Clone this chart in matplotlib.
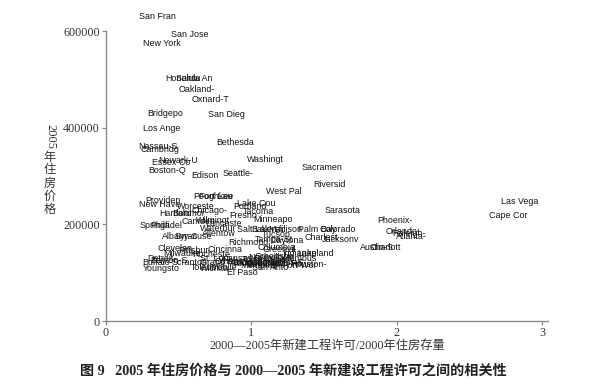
import matplotlib
matplotlib.use("Agg")
import matplotlib.pyplot as plt

cities = ["San Fran", "San Jose", "New York", "Honolulu", "Santa An", "Oakland-", "Oxnard-T",
          "Bridgepo", "San Dieg", "Los Ange", "Bethesda", "Nassau-S", "Cambridg", "Newark-U",
          "Essex Co", "Boston-Q", "Edison", "Seattle-", "Washingt", "Sacramen", "Riversid",
          "West Pal", "Poughkee", "Fort Lau", "Providen", "New Have", "Lake Cou", "Portland",
          "Worceste", "Sarasota", "Chicago-", "Tacoma", "Hartford", "Baltimor", "Fresno",
          "Minneapo", "Phoenix-", "Camden", "Wilmingt", "Lancaste", "Springfi", "Philadel",
          "Waterbur", "Salt Lak", "Bakersfi", "Madison", "Palm Bay", "Colorado", "Orlando-",
          "Raleigh-", "Atlanta-", "Allentow", "Tucson", "Albany-S", "Syracuse", "Richmond",
          "Tampa-St", "Daytona", "Charlest", "Jacksonv", "Austin-S", "Charlott", "Columbia",
          "Greenvil", "Clevelan", "Pittsbur", "Cincinna", "Milwauke", "Rocheste", "Indianap",
          "Lakeland", "Detroit-", "Columbus", "St. Loui", "Kansas C", "Nashvill", "Greensbo",
          "Dayton-S", "Knoxvill", "Tulsa", "Buffalo-", "Scranton", "Grand Ra", "Omaha",
          "Louisvil", "Oklahoma", "Little R", "Dallas-F", "Baton Ro", "Albuquer", "Birmingh",
          "Memphis-", "Fort Wor", "Houston-", "San Anto", "Youngsto", "Toledo", "Wichita",
          "Mobile", "El Paso", "Las Vega", "Cape Cor"]

permits = [0.227, 0.447, 0.254, 0.405, 0.481, 0.502, 0.591,
           0.282, 0.701, 0.254, 0.756, 0.220, 0.234, 0.357,
           0.316, 0.289, 0.584, 0.804, 0.969, 1.347, 1.423,
           1.100, 0.598, 0.639, 0.268, 0.227, 0.900, 0.873,
           0.488, 1.505, 0.591, 0.942, 0.364, 0.454, 0.845,
           1.010, 1.869, 0.522, 0.619, 0.680, 0.234, 0.302,
           0.646, 0.900, 0.997, 1.113, 1.320, 1.471, 1.924,
           1.966, 1.993, 0.660, 1.072, 0.385, 0.474, 0.838,
           1.024, 1.127, 1.368, 1.485, 1.746, 1.814, 1.045,
           1.079, 0.351, 0.495, 0.701, 0.392, 0.591, 1.210,
           1.313, 0.282, 1.175, 0.646, 0.797, 0.976, 1.024,
           0.302, 1.072, 0.935, 0.247, 0.454, 0.646, 0.749,
           0.866, 0.921, 1.045, 1.127, 1.093, 0.852, 0.969,
           0.921, 1.210, 1.265, 1.003, 0.254, 0.584, 0.646,
           0.715, 0.832, 2.715, 2.632]

prices = [629000, 592000, 575000, 501000, 501000, 480000, 459000,
          430000, 428000, 399000, 370000, 362000, 354000, 333000,
          327000, 312000, 302000, 306000, 335000, 317000, 283000,
          267000, 257000, 257000, 250000, 242000, 244000, 236000,
          236000, 228000, 228000, 226000, 223000, 223000, 219000,
          209000, 207000, 205000, 207000, 201000, 197000, 197000,
          192000, 190000, 190000, 190000, 190000, 190000, 186000,
          180000, 174000, 182000, 178000, 174000, 174000, 163000,
          168000, 166000, 172000, 168000, 153000, 153000, 153000,
          147000, 149000, 145000, 147000, 139000, 137000, 139000,
          139000, 130000, 130000, 130000, 130000, 132000, 134000,
          126000, 128000, 128000, 122000, 122000, 122000, 124000,
          122000, 122000, 122000, 122000, 118000, 118000, 116000,
          114000, 114000, 116000, 110000, 108000, 110000, 108000,
          110000, 101000, 248000, 219000]

xticks = [0, 1, 2, 3]
yticks = [0, 200000, 400000, 600000]

xlabel = "2000—2005年新建工程许可/2000年住房存量"
ylabel_num = "2005"
ylabel_cjk = "年住房价格"
caption = "图 9   2005 年住房价格与 2000—2005 年新建设工程许可之间的相关性"

W, H = 590, 390
fig = plt.figure(figsize=(W / 100, H / 100), dpi=100)
fig.patch.set_facecolor("white")
ax = fig.add_axes([106 / W, (H - 321) / H, (548 - 106) / W, (321 - 31) / H])
ax.set_xlim(0, 3.04)
ax.set_ylim(0, 600000)

for name, xv, yv in zip(cities, permits, prices):
    ax.text(xv, yv, name, ha="left", va="center", fontsize=6.4,
            family="Liberation Sans", color="#111111", clip_on=False)

for s in ["top", "right"]:
    ax.spines[s].set_visible(False)
for s in ["left", "bottom"]:
    ax.spines[s].set_color("#8a8a8a")
    ax.spines[s].set_linewidth(1.0)

ax.set_xticks(xticks)
ax.set_xticklabels([str(t) for t in xticks])
ax.set_yticks(yticks)
ax.set_yticklabels([str(t) for t in yticks])
ax.tick_params(direction="out", length=3, width=0.9, color="#8a8a8a",
               labelsize=8.7, labelcolor="#333333", pad=1.5)
for lab in ax.get_xticklabels() + ax.get_yticklabels():
    lab.set_family("Liberation Serif")

fam = ["Liberation Serif", "Noto Sans CJK SC"]
fig.text(327 / W, 1 - 347 / H, xlabel, ha="center", va="center", fontsize=8.8,
         family=fam, color="#333333")

# vertical y-axis title: digits rotated, CJK upright
fig.text(50 / W, 1 - 137 / H, ylabel_num, ha="center", va="center", fontsize=9,
         family="Liberation Serif", rotation=-90, color="#333333")
for i, ch in enumerate(ylabel_cjk):
    fig.text(50 / W, 1 - (157 + i * 13) / H, ch, ha="center", va="center",
             fontsize=8.8, family="Noto Sans CJK SC", color="#333333")

fig.text(80 / W, 1 - 371 / H, caption, ha="left", va="center", fontsize=10.2,
         family=fam, weight="bold", color="#222222")

fig.savefig("out.png", dpi=100, facecolor="white")
